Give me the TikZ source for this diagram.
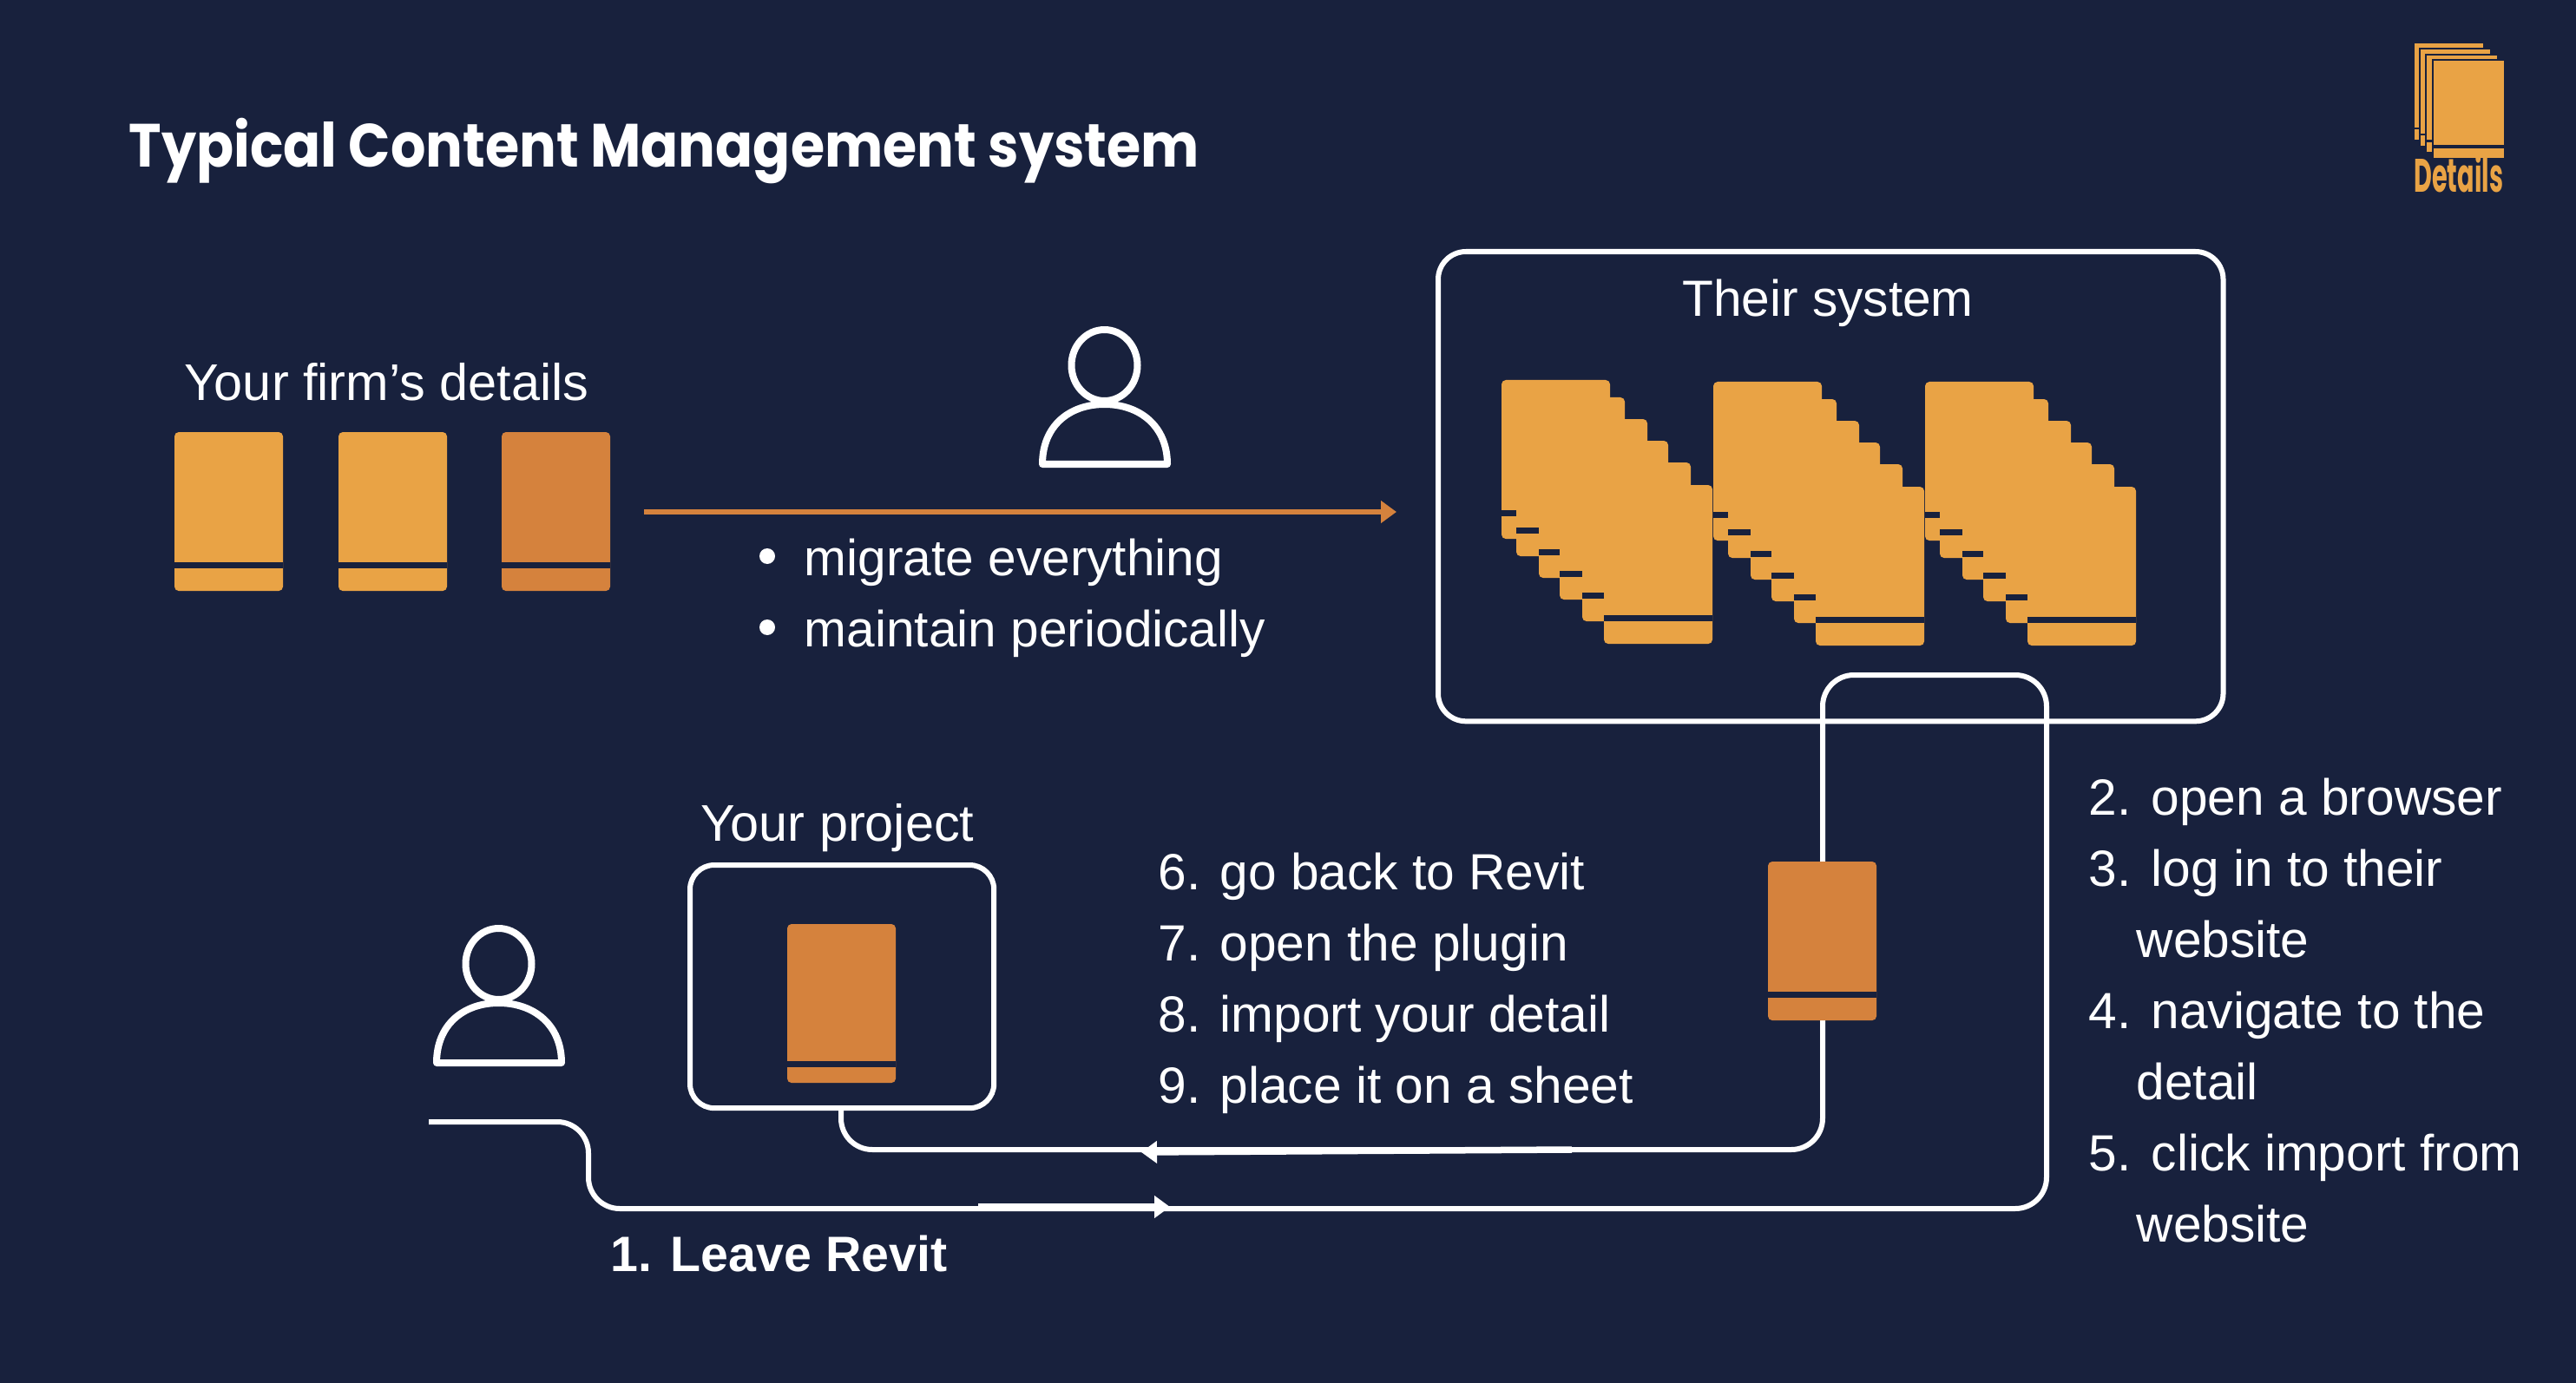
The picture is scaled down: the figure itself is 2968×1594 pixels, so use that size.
\documentclass[tikz,border=0pt]{standalone}
\usepackage{fontspec}
\usetikzlibrary{arrows.meta,calc}
\setmainfont{Liberation Sans}
\newfontfamily\titlefont{Poppins}
\definecolor{navy}{HTML}{18213D}
\definecolor{lightorange}{HTML}{E9A345}
\definecolor{darkorange}{HTML}{D5823D}
\tikzset{
  x=0.01cm, y=-0.01cm,
  label text/.style={text=white, anchor=base west, inner sep=0pt, font=\fontsize{16.68}{20}\selectfont},
  wide label/.style={label text, font=\fontsize{16.9}{20}\selectfont},
  centre text/.style={label text, anchor=base},
  card body/.style={fill=#1, draw=none, rounded corners=0.05cm, minimum width=1.25cm, minimum height=1.83cm, inner sep=0pt, outer sep=0pt, anchor=north west},
  wire/.style={draw=white, line width=0.06cm},
  thick wire/.style={draw=white, line width=0.075cm, -{Triangle[length=0.18cm,width=0.25cm]}},
  frame/.style={draw=white, line width=0.06cm, rounded corners=0.32cm, fill=none, inner sep=0pt, outer sep=0pt, anchor=north west},
  person line/.style={draw=white, line width=0.08cm, line join=round},
  logo edge/.style={draw=navy, line width=0.02cm},
}
\newcommand{\cardgap}[5]{%
  \node[card body=#4] (#1) at (#2,#3) {};
  \fill[navy] ($(#2,#3)+(0,#5)$) rectangle ($(#2,#3)+(125,#5+7)$);
}
\newcommand{\cardat}[4]{\cardgap{#1}{#2}{#3}{#4}{150}}
\newcommand{\stackat}[3]{%
  \cardat{#1a}{#2}{#3}{lightorange}
  \cardat{#1b}{#2+17}{#3+20}{lightorange}
  \cardat{#1c}{#2+43}{#3+45}{lightorange}
  \cardat{#1d}{#2+67}{#3+70}{lightorange}
  \cardat{#1e}{#2+93}{#3+95}{lightorange}
  \cardat{#1f}{#2+118}{#3+121}{lightorange}
}
\newcommand{\personat}[2]{%
  \begin{scope}[shift={(#1,#2)}]
    \draw[person line] (75.5,45) ellipse [x radius=38, y radius=41];
    \draw[person line] (4,159) .. controls (4,115) and (35,90) .. (75.5,90) .. controls (116,90) and (148,115) .. (148,159) -- cycle;
  \end{scope}
}
\newcommand{\logocard}[6]{% left top right stembottom tabtop tabbottom
  \filldraw[fill=lightorange, logo edge] (#1,#2) rectangle (#3,#6);
  \fill[navy] (#1-1,#4) rectangle (#3+1,#5);
}
\begin{document}
\begin{tikzpicture}
\useasboundingbox (0,0) rectangle (2968,1594);
\fill[navy] (0,0) rectangle (2968,1594);

\node[text=white, anchor=base west, inner sep=0pt, font=\titlefont\bfseries\fontsize{20}{24}\selectfont, xscale=0.903] (title) at (148,193) {Typical Content Management system};

% logo
\logocard{2781}{49}{2862}{147}{149}{162}
\logocard{2788}{56}{2870}{154}{156}{169}
\logocard{2795}{63}{2878}{161}{164}{176}
\filldraw[fill=lightorange, logo edge] (2803,69) rectangle (2886,168);
\filldraw[fill=lightorange, logo edge] (2803,170) rectangle (2886,183);
\node[text=lightorange, anchor=base west, inner sep=0pt, font=\titlefont\bfseries\fontsize{15.4}{18}\selectfont, xscale=0.53] (logotext) at (2781,222) {Details};

% top row
\node[wide label] (firmlabel) at (212,462) {Your firm’s details};
\cardat{firm1}{201}{498}{lightorange}
\cardat{firm2}{390}{498}{lightorange}
\cardat{firm3}{578}{498}{darkorange}

\personat{1197}{376}
\coordinate (migstart) at (742,590);
\coordinate (migend) at (1609,590);
\draw[draw=darkorange, line width=0.06cm, -{Triangle[length=0.18cm,width=0.25cm]}] (migstart) -- (migend);

\fill[white] (884,641) circle (9);
\node[label text] (b1) at (926,663) {migrate everything};
\fill[white] (884,723) circle (9);
\node[label text] (b2) at (926,745) {maintain periodically};

% their system
\node[frame, minimum width=9.04cm, minimum height=5.41cm] (their) at (1657,290) {};
\node[centre text] (theirlabel) at (2106,364) {Their system};
\stackat{s}{1730}{438}
\stackat{t}{1974}{440}
\stackat{u}{2218}{440}

% project
\node[wide label, anchor=base] (projlabel) at (965,969) {Your project};
\node[frame, rounded corners=0.28cm, minimum width=3.5cm, minimum height=2.8cm] (proj) at (795,997) {};
\cardgap{projcard}{907}{1065}{darkorange}{158}

% connector
\coordinate (leave) at (494,1293);
\draw[wire, rounded corners=0.36cm] (leave) -- (678,1293) -- (678,1393) -- (2358,1393) -- (2358,778) -- (2100,778) -- (2100,1325) -- (969,1325) -- (969,1277);
\coordinate (ov1a) at (1127,1391);
\coordinate (ov1b) at (1348,1391);
\draw[thick wire] (ov1a) -- (ov1b);
\coordinate (ov2a) at (1811,1325);
\coordinate (ov2b) at (1315,1328);
\draw[thick wire] (ov2a) -- (ov2b);

\cardat{revcard}{2037}{993}{darkorange}

\personat{499}{1066}

\node[label text, font=\bfseries\fontsize{16.3}{20}\selectfont] (leavelabel) at (703,1465) {1. Leave Revit};

\node[label text] (n6) at (1334,1025) {6.};
\node[label text] (t6) at (1405,1025) {go back to Revit};
\node[label text] (n7) at (1334,1107) {7.};
\node[label text] (t7) at (1405,1107) {open the plugin};
\node[label text] (n8) at (1334,1189) {8.};
\node[label text] (t8) at (1405,1189) {import your detail};
\node[label text] (n9) at (1334,1271) {9.};
\node[label text] (t9) at (1405,1271) {place it on a sheet};

\node[label text] (n2) at (2406,939) {2.};
\node[label text] (t2) at (2478,939) {open a browser};
\node[label text] (n3) at (2406,1021) {3.};
\node[label text] (t3) at (2478,1021) {log in to their};
\node[label text] (t3b) at (2461,1103) {website};
\node[label text] (n4) at (2406,1185) {4.};
\node[label text] (t4) at (2478,1185) {navigate to the};
\node[label text] (t4b) at (2461,1267) {detail};
\node[label text] (n5) at (2406,1349) {5.};
\node[label text] (t5) at (2478,1349) {click import from};
\node[label text] (t5b) at (2461,1431) {website};
\end{tikzpicture}
\end{document}
